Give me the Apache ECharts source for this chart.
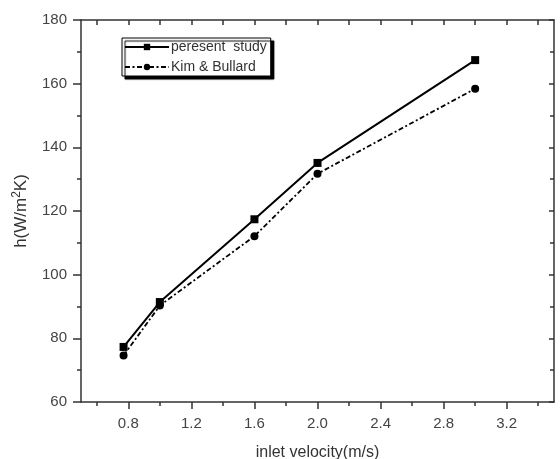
<!DOCTYPE html>
<html>
<head>
<meta charset="utf-8">
<script src="https://cdn.jsdelivr.net/npm/echarts@6/dist/echarts.min.js"></script>
<style>html,body{margin:0;padding:0;background:#fff;}#c{width:560px;height:459px;}</style>
</head>
<body>
<div id="c"></div>
<script>
var velocity = [0.77, 1.0, 1.6, 2.0, 3.0];
var presentStudy = [77.3, 91.4, 117.4, 135.1, 167.4];
var kimBullard = [74.6, 90.3, 112.1, 131.7, 158.4];
var xMajorTicks = [0.8, 1.2, 1.6, 2.0, 2.4, 2.8, 3.2];
var xMinorTicks = [0.6, 1.0, 1.4, 1.8, 2.2, 2.6, 3.0, 3.4];
var xAllTicks = [0.6, 0.8, 1.0, 1.2, 1.4, 1.6, 1.8, 2.0, 2.2, 2.4, 2.6, 2.8, 3.0, 3.2, 3.4];

var font = 'Liberation Sans, Arial, sans-serif';
var chart = echarts.init(document.getElementById('c'));
function pairs(xs, ys) { return xs.map(function (x, i) { return [x, ys[i]]; }); }
chart.setOption({
  animation: false,
  backgroundColor: '#fff',
  grid: { left: 81, right: 6, top: 20, bottom: 57, containLabel: false, outerBoundsMode: 'none' },
  legend: {
    left: 122, top: 38, orient: 'vertical',
    itemWidth: 44, itemHeight: 8, itemGap: 6,
    padding: [2, 4, 2, 2],
    backgroundColor: '#fff', borderColor: '#000', borderWidth: 1,
    shadowColor: '#000', shadowBlur: 1, shadowOffsetX: 3, shadowOffsetY: 3,
    textStyle: { fontFamily: font, fontSize: 14, color: '#333', padding: [0, 0, 0, -3] },
    data: ['peresent  study', 'Kim & Bullard']
  },
  xAxis: [
    {
      type: 'value', min: 0.5, max: 3.5, position: 'bottom',
      name: 'inlet velocity(m/s)', nameLocation: 'middle', nameGap: 43,
      nameTextStyle: { fontFamily: font, fontSize: 16, color: '#333' },
      axisLine: { show: true, lineStyle: { color: '#333', width: 1.5 } },
      axisTick: { show: true, customValues: xMajorTicks, length: 7, lineStyle: { color: '#333', width: 1.5 } },
      axisLabel: { customValues: xMajorTicks, margin: 14, fontFamily: font, fontSize: 15, color: '#444',
        formatter: function (v) { return v.toFixed(1); } },
      splitLine: { show: false }
    },
    {
      type: 'value', min: 0.5, max: 3.5, position: 'bottom',
      axisLine: { show: false },
      axisTick: { show: true, customValues: xMinorTicks, length: 4, lineStyle: { color: '#333', width: 1.5 } },
      axisLabel: { show: false }, splitLine: { show: false }
    },
    {
      type: 'value', min: 0.5, max: 3.5, position: 'top',
      axisLine: { show: true, lineStyle: { color: '#333', width: 1.5 } },
      axisTick: { show: true, inside: true, customValues: xAllTicks, length: 5, lineStyle: { color: '#333', width: 1.5 } },
      axisLabel: { show: false }, splitLine: { show: false }
    }
  ],
  yAxis: [
    {
      type: 'value', min: 60, max: 180, interval: 20, position: 'left',
      name: 'h(W/m{sup|2}K)', nameLocation: 'middle', nameGap: 49, nameRotate: 90,
      nameTextStyle: { fontFamily: font, fontSize: 17, color: '#333',
        rich: { sup: { fontFamily: font, fontSize: 12, color: '#333', verticalAlign: 'bottom', padding: [0, 0, 9, 0] } } },
      axisLine: { show: true, lineStyle: { color: '#333', width: 1.5 } },
      axisTick: { show: true, length: 8, lineStyle: { color: '#333', width: 1.5 } },
      minorTick: { show: true, splitNumber: 2, length: 4, lineStyle: { color: '#333', width: 1.5 } },
      axisLabel: { margin: 14, fontFamily: font, fontSize: 15, color: '#444' },
      splitLine: { show: false }
    },
    {
      type: 'value', min: 60, max: 180, interval: 20, position: 'right',
      axisLine: { show: true, lineStyle: { color: '#333', width: 1.5 } },
      axisTick: { show: true, inside: true, length: 5, lineStyle: { color: '#333', width: 1.5 } },
      minorTick: { show: true, splitNumber: 2, length: 4, lineStyle: { color: '#333', width: 1.5 } },
      axisLabel: { show: false }, splitLine: { show: false }
    }
  ],
  series: [
    {
      name: 'peresent  study', type: 'line', xAxisIndex: 0, yAxisIndex: 0,
      data: pairs(velocity, presentStudy),
      symbol: 'rect', symbolSize: 8,
      itemStyle: { color: '#000' },
      lineStyle: { color: '#000', width: 2 }
    },
    {
      name: 'Kim & Bullard', type: 'line', xAxisIndex: 0, yAxisIndex: 0,
      data: pairs(velocity, kimBullard),
      symbol: 'circle', symbolSize: 8,
      itemStyle: { color: '#000' },
      lineStyle: { color: '#000', width: 1.8, type: [5, 2.5, 2, 2.5] }
    }
  ]
});
</script>
</body>
</html>
